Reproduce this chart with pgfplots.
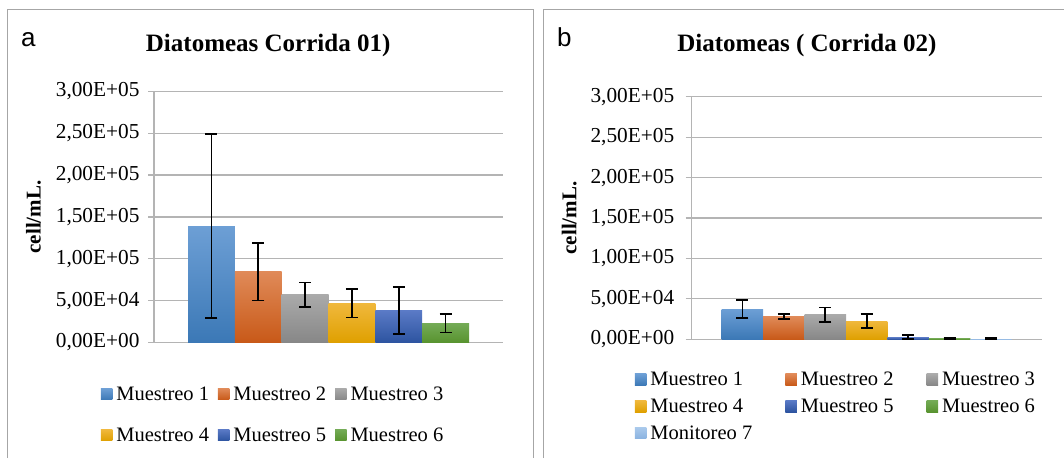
\documentclass[border=0pt]{standalone}
\usepackage{fontspec}
\setmainfont{Liberation Serif}
\newfontfamily\sansf{Liberation Sans}
\usepackage{pgfplots}
\pgfplotsset{compat=1.18}
\definecolor{gridgray}{HTML}{B4B4B4}
\definecolor{framegray}{HTML}{A6A6A6}
\definecolor{c1t}{HTML}{6D9FD5}\definecolor{c1b}{HTML}{3B78B6}
\definecolor{c2t}{HTML}{E08A58}\definecolor{c2b}{HTML}{C85918}
\definecolor{c3t}{HTML}{AAAAAA}\definecolor{c3b}{HTML}{878787}
\definecolor{c4t}{HTML}{F0B83C}\definecolor{c4b}{HTML}{DFA000}
\definecolor{c5t}{HTML}{5A7AC6}\definecolor{c5b}{HTML}{2D54A0}
\definecolor{c6t}{HTML}{74AB56}\definecolor{c6b}{HTML}{58932F}
\definecolor{c7t}{HTML}{AACAEC}\definecolor{c7b}{HTML}{8AB2E0}
\pgfplotsset{
  panel/.style={
    scale only axis,
    ymin=0, ymax=300000,
    scaled y ticks=false,
    ytick={0,50000,100000,150000,200000,250000,300000},
    yticklabels={{0,00E+00},{5,00E+04},{1,00E+05},{1,50E+05},{2,00E+05},{2,50E+05},{3,00E+05}},
    xtick=\empty,
    axis lines*=left,
    axis line style={-, draw=gridgray, line width=1.2pt},
    ymajorgrids, grid style={draw=gridgray, line width=1.2pt},
    tick align=outside, major tick length=6pt,
    ytick style={draw=gridgray, line width=1.2pt},
    tick label style={font=\fontsize{21.3}{24}\selectfont},
    label style={font=\bfseries\fontsize{21}{24}\selectfont},
    title style={font=\bfseries\fontsize{25}{28}\selectfont},
    legend cell align=left,
    legend style={draw=none, fill=none, inner sep=0pt,
      font=\fontsize{20.5}{24}\selectfont,
      nodes={inner sep=2pt, text height=15pt, text depth=5pt},
      column sep=0pt},
    legend image code/.code={\path[##1, draw=none] (0pt,-4.5pt) rectangle (11.5pt,7pt);
      \path (0pt,0pt) -- (13.5pt,0pt);},
  },
  err/.style={forget plot, draw=none, mark=none,
    error bars/.cd, y dir=both, y explicit,
    error bar style={draw=black, line width=1.7pt, solid},
    error mark options={draw=black, line width=1.7pt, mark size=6pt, rotate=90}},
  mybar/.style 2 args={ybar, bar width=1, bar shift=0pt, draw=none, top color=#1, bottom color=#2},
}
\begin{document}
\begin{tikzpicture}
\path[use as bounding box] (0pt,0pt) rectangle (1064pt,458pt);
\draw[framegray, line width=1pt] (7.3pt,0pt) -- (7.3pt,448.7pt) -- (533pt,448.7pt) -- (533pt,0pt);
\draw[framegray, line width=1pt] (543.3pt,0pt) -- (543.3pt,448.7pt) -- (1064pt,448.7pt);
\node[anchor=base west, inner sep=0pt, font=\sansf\fontsize{26}{30}\selectfont] at (21pt,411.3pt) {a};
\node[anchor=base west, inner sep=0pt, font=\sansf\fontsize{26}{30}\selectfont] at (557pt,411.3pt) {b};

\begin{axis}[panel, at={(154pt,115.5pt)}, anchor=south west,
  width=349pt, height=251.2pt, xmin=-0.226, xmax=7.226,
  yticklabel style={xshift=-5pt},
  title={Diatomeas Corrida 01)},
  title style={at={(axis description cs:0.327,1.135)}, anchor=base},
  ylabel={cell/mL.},
  ylabel style={at={(axis description cs:-0.345,0.5)}, anchor=center},
  legend columns=3,
  legend style={at={(axis description cs:-0.153,-0.162)}, anchor=north west,
    row sep=17pt, /tikz/every even column/.append style={column sep=6.8pt}}]
\addplot[mybar={c1t}{c1b}] coordinates {(1,139000)}; \addlegendentry{Muestreo 1}
\addplot[mybar={c2t}{c2b}] coordinates {(2,84500)};  \addlegendentry{Muestreo 2}
\addplot[mybar={c3t}{c3b}] coordinates {(3,57000)};  \addlegendentry{Muestreo 3}
\addplot[mybar={c4t}{c4b}] coordinates {(4,46800)};  \addlegendentry{Muestreo 4}
\addplot[mybar={c5t}{c5b}] coordinates {(5,38000)};  \addlegendentry{Muestreo 5}
\addplot[mybar={c6t}{c6b}] coordinates {(6,22800)};  \addlegendentry{Muestreo 6}
\addplot[err] coordinates {
  (1,139000) +- (0,110000)
  (2,84500) +- (0,34200)
  (3,57000) +- (0,14700)
  (4,46800) +- (0,17000)
  (5,38000) +- (0,28000)
  (6,22800) +- (0,11000)
};
\end{axis}

\begin{axis}[panel, at={(691.7pt,118.7pt)}, anchor=south west,
  width=350pt, height=242.6pt, xmin=-0.224, xmax=8.224,
  yticklabel style={xshift=-8pt},
  title={Diatomeas ( Corrida 02)},
  title style={at={(axis description cs:0.329,1.162)}, anchor=base},
  ylabel={cell/mL.},
  ylabel style={at={(axis description cs:-0.35,0.5)}, anchor=center},
  legend columns=3,
  legend style={at={(axis description cs:-0.163,-0.121)}, anchor=north west,
    row sep=2.7pt, /tikz/every even column/.append style={column sep=31pt}}]
\addplot[mybar={c1t}{c1b}] coordinates {(1,37400)}; \addlegendentry{Muestreo 1}
\addplot[mybar={c2t}{c2b}] coordinates {(2,28000)}; \addlegendentry{Muestreo 2}
\addplot[mybar={c3t}{c3b}] coordinates {(3,30500)}; \addlegendentry{Muestreo 3}
\addplot[mybar={c4t}{c4b}] coordinates {(4,22600)}; \addlegendentry{Muestreo 4}
\addplot[mybar={c5t}{c5b}] coordinates {(5,2800)};  \addlegendentry{Muestreo 5}
\addplot[mybar={c6t}{c6b}] coordinates {(6,1200)};  \addlegendentry{Muestreo 6}
\addplot[mybar={c7t}{c7b}] coordinates {(7,1000)};  \addlegendentry{Monitoreo 7}
\addplot[err] coordinates {
  (1,37400) +- (0,11300)
  (2,28000) +- (0,2900)
  (3,30500) +- (0,9000)
  (4,22600) +- (0,8300)
  (5,2800) +- (0,2100)
  (6,1200) +- (0,600)
  (7,1000) +- (0,300)
};
\end{axis}
\end{tikzpicture}
\end{document}
